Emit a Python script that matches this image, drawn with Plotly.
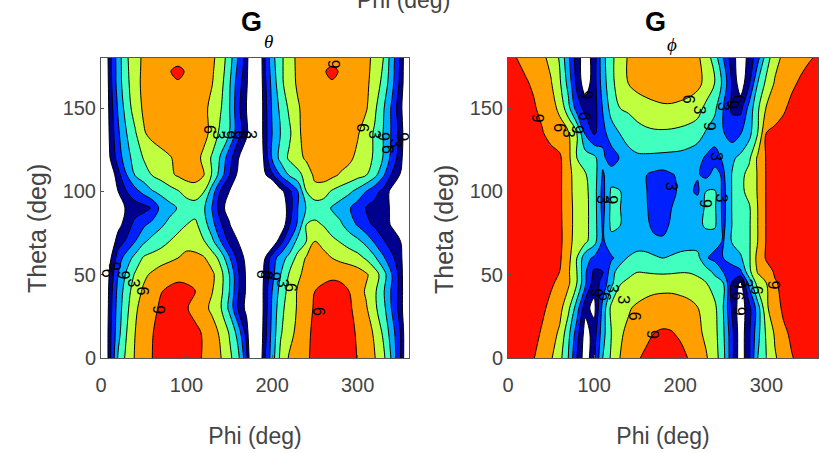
import plotly.graph_objects as go

phi = list(range(0, 361, 10))
theta_left = [0, 15, 30, 40, 50, 60, 70, 80, 90, 100, 110, 120, 135, 150, 165, 172, 180]
theta_right = [0, 15, 30, 45, 52, 60, 70, 80, 90, 100, 110, 120, 135, 150, 165, 180]

g_theta = [
 [-30,-19,-11.6,-8.2,-5.7,-4.4,-3,-2,-1.5,-1,-1.5,-2.2,-3.3,-4.6,-5.9,-8.2,-11,-17,-30,-19,-13.5,-8.2,-5.7,-4.5,-3.3,-2.5,-2,-1.5,-1.5,-2.2,-3.1,-4.5,-5.9,-8.2,-12.5,-18,-26],
 [-30,-19,-13,-9,-6,-4.5,-3.1,-2.2,-1.5,-1,-1.5,-2.3,-3.3,-4.8,-6.5,-9.2,-13,-19,-30,-20,-14,-9.3,-7,-5.2,-3.5,-2.5,-2,-1.5,-1.7,-2.3,-3.3,-4.8,-6.4,-9.5,-13.5,-18,-26],
 [-30,-19.5,-13.5,-9.8,-6.4,-5,-3.7,-2.6,-2,-1.8,-2.8,-3.9,-5.2,-6.6,-8.8,-12.7,-18,-22,-30,-20.5,-14.5,-10,-7.5,-5.7,-4,-2.7,-2,-1.5,-1.8,-2.6,-3.9,-5.7,-8.4,-11,-15.3,-19.2,-27],
 [-30,-19.8,-14,-10.3,-7.4,-5.5,-4.3,-3.1,-2.6,-2.4,-2.6,-2.9,-4.4,-5.9,-8.2,-12,-17.5,-21.5,-30,-20.5,-15,-10.8,-8,-5.7,-4.3,-3,-2.5,-2.2,-2.4,-3,-4.5,-6.4,-8.5,-11.6,-15.5,-19,-27],
 [-30,-20.5,-15,-11.4,-8.6,-6.6,-5.5,-4.5,-3.8,-3.5,-3.5,-3.8,-4.5,-5.4,-8,-12,-17.4,-21.5,-30,-21,-16,-12,-8.7,-6.5,-5.2,-4.4,-3.6,-3.4,-3.5,-3.8,-4.5,-5.6,-7.5,-10.6,-15,-19.2,-27],
 [-30,-22,-16.5,-13.5,-11,-8.6,-8,-7.3,-6.7,-6,-5.3,-5.2,-5.7,-7.5,-10,-14.6,-18.8,-22,-30,-22,-16.5,-13.5,-11,-8,-5.7,-5.2,-5.2,-6,-6.8,-7.4,-8,-9.4,-11.5,-14.5,-17.3,-19.8,-27],
 [-30,-24,-19.5,-17.5,-15,-12.5,-11,-10.2,-9,-8,-7,-7.5,-8.8,-11.3,-15,-18.7,-21,-26,-30,-30,-24,-19,-15,-11,-9,-6,-6.8,-8.3,-9.2,-10.2,-11.3,-13,-15.5,-17.7,-19.5,-20.9,-28],
 [-30,-26,-22,-19.6,-17,-15.5,-14,-12.5,-11.2,-10,-9,-8.4,-10.5,-14,-17.6,-20.5,-26,-30,-30,-30,-28,-24,-18.3,-14.5,-9,-8.3,-9.2,-10.5,-11.5,-13.5,-15.3,-17.2,-18.5,-19.8,-21.3,-25,-30],
 [-30,-28,-23,-20.5,-19.5,-19,-17.7,-14,-13,-11.8,-10.5,-10.2,-11.5,-15.3,-19.5,-23,-28,-30,-30,-30,-28,-24,-19.5,-15,-11.8,-10.8,-10.5,-12.3,-13.5,-14.7,-16.5,-18.2,-19,-19.8,-21.5,-26,-30],
 [-30,-26,-21,-18,-16,-14,-12.2,-11.3,-10.2,-9.2,-8,-7.6,-8.8,-13.5,-18.3,-21,-27,-30,-30,-30,-27,-22,-18.8,-15,-9,-7,-7.8,-9.3,-10.3,-11.4,-12.9,-15,-17,-18.8,-22,-27,-30],
 [-30,-24,-19,-15,-11.7,-10.3,-8.8,-7.8,-6.6,-5.6,-4.8,-4.6,-5.8,-9.3,-13.5,-17.8,-21.6,-28,-30,-22,-18.4,-14.6,-11.6,-10,-7.8,-5.3,-4.6,-5.2,-6.3,-7,-7.9,-8.8,-11,-14.5,-18.3,-21.2,-28],
 [-30,-21.3,-16.5,-13.2,-10.7,-8.8,-8,-7.2,-6.3,-5.2,-4.6,-4.8,-6.7,-9.5,-12.4,-16.8,-20.4,-26,-30,-21,-14.6,-11,-8.5,-7,-5.5,-4.8,-4.4,-4.3,-4.6,-5.4,-6.7,-7.8,-9.5,-12.2,-16,-19.5,-27],
 [-30,-20.5,-15.5,-12,-9.3,-6.3,-5,-4.2,-3.8,-3.7,-3.8,-4.2,-5,-6.9,-9.9,-12,-16.7,-19.6,-30,-20,-15,-11.9,-9.6,-6.5,-5,-4.3,-3.9,-3.7,-3.9,-4.6,-5.7,-7.5,-9.4,-12.1,-15.4,-19,-26],
 [-30,-20,-14.6,-10.5,-7.6,-5.5,-4.5,-3.9,-3.6,-3.5,-3.6,-4,-5.2,-6.9,-8.8,-11.8,-17,-21,-30,-20,-14.6,-11.2,-8.5,-6.3,-5,-4.2,-3.8,-3.6,-3.7,-4,-4.7,-5.7,-8.4,-11.6,-15.5,-20,-26],
 [-30,-19.5,-13.5,-9.8,-7,-5.3,-4.4,-3.7,-3.3,-3.2,-3.4,-3.9,-4.7,-5.9,-8,-11.5,-16.5,-20,-30,-19.5,-14,-9.8,-7.2,-5.6,-4.7,-4,-3.5,-3.2,-3.4,-3.9,-4.5,-5.4,-7.3,-9.9,-14,-18.8,-26],
 [-30,-19.3,-13.5,-9.6,-7,-5.4,-4.5,-3.8,-3.1,-2.5,-3.2,-4,-4.7,-5.7,-7.6,-11,-15.8,-19.6,-30,-19.2,-13.5,-9.7,-7.2,-5.5,-4.7,-4,-3.2,-2.5,-3.2,-4,-4.6,-5.3,-7,-9.4,-13.7,-18.6,-26],
 [-30,-19,-13.5,-9.4,-7,-5.5,-4.7,-4.2,-3.9,-3.8,-3.9,-4.2,-4.7,-5.5,-7.2,-10.6,-15,-19.2,-30,-19,-13,-9.7,-7.2,-5.4,-4.7,-4.2,-3.9,-3.8,-3.9,-4.2,-4.7,-5.3,-6.7,-9,-13.5,-18.4,-26],
]

g_phi = [
 [-1,-1.5,-2,-2.9,-4.5,-5.7,-8,-12,-18,-23,-18.5,-12,-8.5,-6,-4.5,-3.3,-2.5,-2,-1.8,-2,-2.4,-3.1,-4.5,-5.7,-7.6,-11,-17,-23,-18.5,-12,-9,-6.3,-4.8,-3.1,-2.4,-1.8,-1],
 [-1,-1.3,-1.7,-2.3,-3.3,-4.7,-6.5,-11,-16.5,-22.5,-19.5,-13.2,-9,-6.4,-5.4,-4.5,-3.7,-3,-2.8,-2.9,-3.3,-4.2,-5.3,-6.6,-8,-11.5,-17,-23,-18.5,-13,-8.5,-5.6,-3.5,-2.5,-2,-1.5,-1],
 [-1,-1.3,-1.6,-2,-2.6,-3.6,-5,-8.2,-13.5,-20,-22,-14,-8.2,-7,-6.3,-5.5,-4.8,-4.2,-4,-4,-4.4,-5,-5.9,-7,-8.3,-12,-18.3,-23,-19,-13.5,-6.5,-4.2,-2.5,-2,-1.8,-1.5,-1],
 [-1,-1.2,-1.5,-1.8,-2.2,-2.7,-3.5,-5.4,-9,-14.6,-19.5,-17,-12.8,-9.2,-8.4,-8,-7.7,-7.5,-7.4,-7.4,-7.6,-7.8,-8.2,-8.9,-10.5,-12,-18.2,-21.5,-14,-7.5,-6,-3.2,-2.5,-2,-1.7,-1.4,-1],
 [-1,-1.1,-1.3,-1.6,-2,-2.4,-3,-5.5,-9,-14.6,-18.5,-18,-13.5,-10.2,-9.8,-9.1,-9.2,-9.4,-9.5,-9.4,-9.2,-9.2,-9.6,-10.8,-12.8,-15.2,-16.5,-15.5,-9.8,-5.7,-4,-2.7,-2.1,-1.7,-1.5,-1.2,-1],
 [-1,-1.1,-1.2,-1.4,-1.7,-2,-2.6,-5,-9,-14,-15.5,-16,-15.4,-14,-11.8,-11,-10.8,-11.5,-12,-11.5,-10.8,-10.5,-11,-14.7,-15.8,-15,-13.5,-12.5,-9.5,-5,-2.7,-2.2,-1.8,-1.5,-1.3,-1.1,-1],
 [-1,-1,-1.1,-1.2,-1.4,-1.7,-2.3,-4.8,-7.5,-8.4,-10.8,-15.5,-13,-13,-13.2,-13.5,-14,-14.5,-14.6,-14.3,-14,-13.8,-13.5,-13.5,-14,-15.2,-11.8,-10.5,-9.4,-6,-2.8,-2.2,-1.8,-1.4,-1.2,-1.1,-1],
 [-1,-1,-1,-1.1,-1.3,-1.6,-2.3,-5,-7,-8.2,-10.5,-15.5,-11.3,-11.9,-13.2,-13.8,-14.5,-15.6,-15.8,-14.6,-14,-13.5,-12.8,-11.5,-11.4,-15.8,-12,-10.5,-9.4,-6,-2.8,-2.2,-1.8,-1.4,-1.2,-1,-1],
 [-1,-1,-1,-1.1,-1.3,-1.6,-2.4,-5,-7,-8.2,-10.5,-16,-11.2,-11.9,-13.5,-14,-14.7,-16,-16.3,-15,-14.2,-13.7,-13,-11.7,-11.5,-16,-11.9,-10,-9.4,-6,-2.8,-2.2,-1.8,-1.4,-1.2,-1,-1],
 [-1,-1,-1,-1.1,-1.3,-1.6,-2.4,-5.1,-7.2,-8.3,-10.6,-16,-11.5,-11.9,-13.2,-14,-14.8,-16.2,-16.5,-15.5,-14.6,-14.3,-15.6,-12,-11.7,-16,-11.9,-9.8,-8,-5.8,-2.8,-2.2,-1.8,-1.4,-1.2,-1,-1],
 [-1,-1,-1,-1.1,-1.3,-1.6,-2.4,-5,-7.5,-8.8,-10.5,-15.3,-13.5,-13.5,-14,-14.5,-14.9,-15.6,-15.9,-15.2,-14.5,-14.3,-14.7,-15.8,-14,-15.5,-11.9,-9.9,-8,-5.8,-2.8,-2.2,-1.8,-1.4,-1.2,-1,-1],
 [-1,-1,-1.1,-1.2,-1.4,-1.7,-2.5,-5.2,-9,-10.5,-11.2,-14.3,-16.5,-14.8,-13,-12.5,-12.5,-12.6,-12.7,-12.8,-12.9,-13.3,-14,-15.4,-16.2,-14.5,-12.5,-11.3,-9.6,-5.5,-2.8,-2.3,-1.9,-1.6,-1.3,-1.1,-1],
 [-1,-1.2,-1.4,-1.8,-2.8,-4.2,-4.8,-5.7,-9,-15.5,-18.5,-16,-13.4,-11.9,-10.8,-10,-9.6,-9.4,-9.4,-9.5,-9.7,-10,-10.6,-12.3,-13.5,-14.8,-16.5,-15.2,-13,-9,-3,-2.3,-1.9,-1.6,-1.3,-1.1,-1],
 [-1.2,-1.4,-1.8,-2.7,-3.8,-5,-6.6,-11,-16.5,-19,-19.5,-14.8,-10.8,-9,-8.5,-7.8,-7.2,-6.8,-6.5,-6.5,-6.8,-7.2,-7.8,-9.8,-11.3,-15,-18.5,-19,-14,-9.5,-5.8,-4.6,-3.4,-2.2,-1.8,-1.4,-1.1],
 [-1.5,-2,-2.7,-3.4,-4.6,-5.8,-8.5,-13,-18.8,-23,-19.2,-13.5,-9.8,-7.5,-5.9,-4.9,-4.4,-4,-3.8,-3.8,-4,-4.4,-5.2,-6.8,-9,-12.8,-18.2,-23,-18.5,-12,-8.3,-5.7,-4.6,-3.5,-2.6,-2,-1.6],
 [-1.8,-3,-3.7,-4.5,-5.4,-6.8,-9.3,-14.3,-19.5,-23,-19.5,-13,-9.7,-7.4,-5.7,-4.9,-4.4,-4,-3.9,-3.9,-4.1,-4.6,-5.5,-7.3,-10.5,-15,-19.5,-23,-20,-16,-10.5,-7,-5.4,-4.6,-3.9,-3.2,-2.7],
]

# contour label digits as they read in the picture
label_left_phi = [67, 127, 137, 149, 158, 168, 175, 49, 38, 26, 16, 8.5, 254, 222, 213, 203, 193, 188, 306, 320, 330, 335, 345, 353, 271]
label_left_theta = [29, 137, 134, 134, 134, 134, 134, 40, 45, 50, 55, 51, 28, 42, 45, 49, 50, 50, 138, 134, 133, 125, 129, 133, 176]
label_left_text = ["9", "6", "3", "9", "9", "6", "3", "6", "3", "9", "9", "6", "6", "6", "3", "9", "9", "6", "6", "3", "9", "6", "3", "9", "9"]
label_right_phi = [35, 60, 71, 81, 89, 91, 209, 222, 234, 250, 261, 267, 242, 190, 120, 110, 230, 248, 308, 288, 277, 267, 267, 269, 103, 112, 122, 134, 147, 168]
label_right_theta = [144, 138, 135, 137, 145, 158, 155, 149, 139, 151, 152, 155, 121, 103, 95, 95, 93, 96, 44, 41, 45, 44, 37, 28, 39, 37, 42, 35, 25, 14]
label_right_text = ["9", "6", "3", "9", "6", "9", "6", "3", "9", "3", "9", "6", "3", "3", "9", "3", "9", "3", "9", "6", "3", "9", "6", "9", "9", "6", "3", "3", "6", "9"]

band_colors = ["#ffffff", "#00008f", "#0020ff", "#00b0ff", "#40ffbf", "#bfff40", "#ff9f00", "#ff1000"]

for rows, ys in ((g_theta, theta_left), (g_phi, theta_right)):
    assert len(rows) == len(ys), (len(rows), len(ys))
    for i, r in enumerate(rows):
        assert len(r) == len(phi), (i, len(r))

n = len(band_colors)
cs = []
for i, c in enumerate(band_colors):
    cs += [[i / n, c], [(i + 1) / n, c]]

W, H = 819, 453
FONT = "Liberation Sans, Arial, sans-serif"
INK = "#444444"


def contour(z, y, xa, ya):
    return go.Contour(x=phi, y=y, z=z, xaxis=xa, yaxis=ya, showscale=False,
                      colorscale=cs, zmin=-24, zmax=0, hoverinfo="skip",
                      contours=dict(start=-21, end=-3, size=3, coloring="fill"),
                      line=dict(color="black", width=1))


fig = go.Figure([contour(g_theta, theta_left, "x", "y"), contour(g_phi, theta_right, "x2", "y2")])


def axes(xd):
    common = dict(showgrid=False, zeroline=False, showline=True, mirror=True, linecolor="#555555",
                  linewidth=1, ticks="inside", ticklen=3, tickcolor="#555555", automargin=False,
                  tickfont=dict(family=FONT, size=20, color=INK))
    x = dict(domain=[xd[0] / W, xd[1] / W], range=[0, 360], tickvals=[0, 100, 200, 300], ticklabelstandoff=9,
             title=dict(text="Phi (deg)", font=dict(family=FONT, size=23, color=INK), standoff=32), **common)
    y = dict(domain=[(H - 358) / H, (H - 58) / H], range=[0, 180], tickvals=[0, 50, 100, 150], **common)
    return x, y


x1, y1 = axes((101, 409))
x2, y2 = axes((508, 818))
y2["anchor"] = "x2"
x2["anchor"] = "y2"

ann = []
for xs, ys, ts, xr, yr in ((label_left_phi, label_left_theta, label_left_text, "x", "y"),
                           (label_right_phi, label_right_theta, label_right_text, "x2", "y2")):
    for a, b, t in zip(xs, ys, ts):
        ann.append(dict(x=a, y=b, xref=xr, yref=yr, text=t, showarrow=False, textangle=90,
                        font=dict(family=FONT, size=16, color="black")))


def paper(px, py, text, size, color="black", family=FONT, angle=0):
    ann.append(dict(x=px / W, y=(H - py) / H, xref="paper", yref="paper", text=text, showarrow=False,
                    xanchor="center", yanchor="middle", textangle=angle,
                    font=dict(size=size, color=color, family=family)))


paper(251, 22, "<b>G</b>", 27)
paper(268, 41, "<i>θ</i>", 19, family="Liberation Serif, serif")
paper(655, 22, "<b>G</b>", 27)
paper(672, 44, "<i>ϕ</i>", 19, family="Liberation Serif, serif")
paper(403, 0, "Phi (deg)", 23, color=INK)
paper(37, 229, "Theta (deg)", 25, color=INK, angle=-90)
paper(444, 229, "Theta (deg)", 25, color=INK, angle=-90)

fig.update_layout(width=W, height=H, autosize=False, margin=dict(l=0, r=0, t=0, b=0),
                  paper_bgcolor="white", plot_bgcolor="white", showlegend=False,
                  xaxis=x1, yaxis=y1, xaxis2=x2, yaxis2=y2, annotations=ann)
fig.write_html("out.html", config=dict(displayModeBar=False),
               post_script="document.body.style.margin='0';")
